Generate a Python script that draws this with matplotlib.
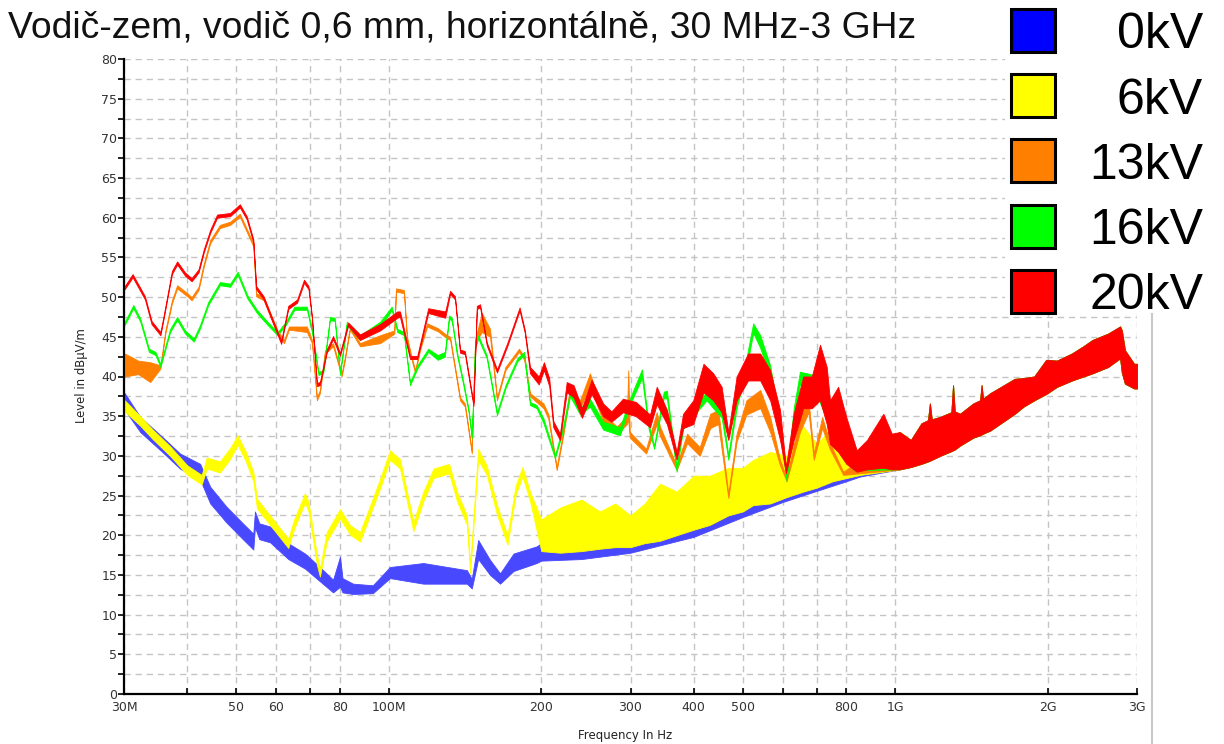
import numpy as np
import matplotlib
matplotlib.use("Agg")
import matplotlib.pyplot as plt
from matplotlib.patches import Rectangle
from matplotlib.ticker import MultipleLocator, NullLocator

# frekvence v MHz, úrovně v dBuV/m (horní a dolní okraj stopy)
red_f = [30.1, 31.2, 33.0, 34.0, 35.4, 35.9, 37.3, 38.2, 39.6, 40.8, 42.1, 43.1, 44.4, 45.8, 48.6, 50.8, 52.4, 54.0, 54.7, 56.6,
         59.3, 61.3, 63.3, 65.9, 68.0, 69.4, 70.5, 72.1, 73.1, 75.4, 77.6, 80.1, 83.1, 87.7, 96.1, 103.9, 105.2, 110.1, 113.8, 119.6,
         129.2, 132.1, 135.1, 138.2, 141.3, 144.7, 146.9, 149.2, 151.4, 156.1, 163.5, 171.5, 181.2, 185.5, 190.0, 197.7, 202.4, 207.3, 211.2, 217.7,
         224.5, 231.6, 240.6, 251.4, 264.9, 275.0, 289.8, 307.3, 327.8, 338.0, 354.0, 370.0, 381.0, 399.0, 418.0, 437.0, 454.0, 468.0, 486.0, 512.0,
         541.0, 566.0, 592.0, 608.0, 630.0, 658.0, 684.0, 710.0, 732.0, 743.0, 771.0, 800.0, 839.0, 879.0, 947.0, 984.0]
red_hi = [51.4, 52.9, 50.1, 47.0, 45.6, 47.6, 53.3, 54.5, 53.1, 52.4, 53.5, 56.0, 58.5, 60.4, 60.6, 61.7, 60.2, 57.3, 51.4, 50.1,
          46.8, 44.5, 48.9, 49.7, 52.2, 51.4, 47.6, 39.2, 39.3, 43.4, 45.1, 43.0, 46.8, 45.3, 46.6, 48.2, 48.2, 42.6, 42.6, 48.6,
          48.2, 50.8, 50.1, 43.4, 43.2, 39.2, 36.7, 48.9, 49.1, 44.3, 40.9, 44.3, 48.7, 45.9, 41.2, 40.0, 41.8, 39.8, 34.4, 32.8,
          39.3, 38.9, 36.0, 39.6, 36.6, 35.6, 37.2, 36.8, 35.2, 38.7, 35.8, 30.5, 35.3, 37.0, 41.6, 40.4, 38.7, 33.0, 40.0, 42.9,
          42.9, 40.8, 35.8, 28.6, 35.3, 40.0, 40.0, 44.0, 41.2, 37.0, 38.7, 34.9, 30.7, 32.0, 35.3, 32.8]
red_lo = [51.0, 52.5, 49.7, 46.6, 45.2, 47.2, 52.9, 54.1, 52.7, 52.0, 53.1, 55.6, 58.1, 60.0, 60.2, 61.3, 59.8, 56.9, 51.0, 49.7,
          46.4, 44.1, 48.5, 49.3, 51.8, 51.0, 47.2, 38.8, 38.9, 43.0, 44.7, 42.6, 46.4, 44.6, 45.8, 47.4, 47.5, 42.2, 42.2, 48.0,
          47.4, 50.4, 49.7, 43.0, 42.8, 38.8, 36.3, 48.5, 48.7, 43.9, 40.5, 43.9, 48.3, 45.5, 40.4, 39.0, 40.8, 38.8, 33.6, 32.0,
          38.0, 37.4, 34.8, 37.8, 35.0, 34.3, 35.5, 35.0, 33.6, 36.5, 34.0, 29.5, 33.5, 34.0, 38.0, 37.0, 35.5, 32.0, 37.0, 39.5,
          39.5, 37.0, 32.0, 27.8, 32.0, 36.0, 36.0, 37.0, 34.0, 31.5, 30.5, 29.0, 28.0, 28.3, 28.5, 28.3]

orange_f = [30.1, 32.0, 33.8, 35.4, 36.2, 37.3, 38.2, 40.0, 40.8, 42.1, 43.1, 44.4, 46.4, 48.6, 50.8, 52.6, 54.0, 54.7, 56.6, 60.3,
            62.1, 63.5, 68.9, 70.5, 72.1, 73.1, 74.8, 77.6, 80.7, 81.9, 83.8, 87.7, 96.1, 102.5, 103.3, 107.1, 108.6, 110.1, 112.7, 115.2,
            119.0, 124.9, 129.0, 132.1, 138.2, 141.3, 145.8, 148.0, 152.6, 158.4, 163.5, 169.9, 180.7, 185.0, 190.0, 202.0, 206.4, 214.5, 221.0, 227.9,
            238.5, 249.5, 265.0, 282.0, 295.0, 297.0, 299.0, 322.0, 338.0, 343.0, 370.0, 388.0, 411.0, 431.0, 447.0, 468.0, 486.0, 508.0, 541.0, 566.0,
            592.0, 610.0, 648.0, 674.0, 690.0, 717.0, 743.0, 789.0]
orange_hi = [42.9, 42.0, 41.8, 41.4, 45.8, 49.6, 51.5, 50.5, 50.0, 51.3, 54.2, 57.2, 59.1, 59.5, 60.5, 58.4, 56.8, 50.5, 50.0, 45.8,
             44.6, 46.3, 46.3, 44.6, 37.4, 38.3, 43.3, 44.2, 40.4, 42.5, 46.3, 44.2, 45.2, 45.8, 51.1, 50.9, 45.0, 43.3, 40.8, 43.7,
             46.7, 46.1, 45.4, 45.0, 37.4, 36.6, 30.7, 44.6, 48.0, 46.0, 37.4, 41.2, 43.5, 42.5, 37.9, 36.6, 35.3, 28.6, 33.2, 38.7,
             37.0, 40.4, 35.3, 33.7, 35.0, 40.8, 33.0, 30.9, 35.5, 33.7, 28.8, 32.8, 31.1, 35.3, 35.8, 25.2, 32.8, 37.0, 38.3, 34.9,
             29.5, 27.2, 34.9, 37.0, 30.3, 34.9, 31.6, 28.0]
orange_lo = [40.0, 40.3, 39.3, 41.0, 45.4, 49.2, 51.1, 50.1, 49.6, 50.9, 53.8, 56.8, 58.7, 59.1, 60.1, 58.0, 56.4, 50.1, 49.6, 45.4,
             44.2, 45.9, 45.6, 44.2, 37.0, 37.9, 42.9, 43.8, 40.0, 42.1, 45.9, 43.8, 44.2, 45.4, 50.7, 50.5, 44.6, 42.9, 40.4, 43.3,
             46.3, 45.7, 45.0, 44.6, 37.0, 36.2, 30.3, 44.2, 45.6, 45.0, 37.0, 40.8, 43.1, 42.1, 37.5, 36.0, 34.7, 28.2, 32.6, 37.8,
             36.0, 38.8, 34.3, 32.7, 34.0, 34.5, 32.3, 30.3, 34.0, 32.5, 28.2, 31.6, 30.0, 33.5, 34.0, 24.7, 31.8, 35.2, 36.0, 33.0,
             28.8, 26.8, 33.0, 35.5, 29.5, 33.5, 30.8, 27.6]

green_f = [30.1, 31.3, 32.3, 33.6, 34.6, 35.4, 37.0, 38.2, 39.6, 41.2, 42.4, 44.0, 46.4, 48.6, 50.3, 52.6, 54.9, 57.6, 60.3, 62.6,
           65.1, 68.9, 70.5, 72.6, 74.2, 76.5, 78.2, 80.1, 82.6, 87.7, 96.1, 101.3, 103.9, 107.1, 110.1, 113.8, 119.6, 124.9, 129.0, 131.5,
           133.1, 136.3, 140.3, 143.6, 145.8, 148.0, 150.1, 156.0, 163.5, 169.9, 179.3, 185.0, 190.0, 195.8, 202.0, 212.8, 221.0, 227.9, 238.5, 249.5,
           265.0, 286.0, 299.0, 316.0, 326.0, 334.0, 349.0, 354.0, 370.0, 381.0, 399.0, 424.0, 437.0, 454.0, 468.0, 486.0, 508.0, 524.0, 541.0, 566.0,
           592.0, 610.0, 630.0, 648.0, 690.0, 732.0, 778.0, 826.0]
green_hi = [46.9, 49.0, 47.3, 43.5, 43.1, 41.6, 46.0, 47.5, 45.8, 44.8, 46.5, 49.4, 51.9, 51.7, 53.2, 50.2, 48.4, 46.9, 45.6, 46.9,
            48.8, 48.8, 46.0, 40.6, 40.8, 47.5, 47.4, 40.6, 46.9, 45.2, 46.9, 48.8, 46.0, 45.6, 39.3, 41.4, 43.5, 42.7, 43.1, 47.7,
            47.4, 43.1, 39.3, 36.0, 32.6, 43.9, 45.2, 42.7, 35.5, 38.9, 42.3, 43.1, 36.8, 36.4, 34.7, 30.1, 33.9, 38.1, 36.0, 37.2,
            34.3, 33.6, 37.2, 40.9, 33.9, 31.3, 38.1, 38.2, 28.6, 34.2, 36.0, 38.1, 37.2, 36.0, 30.1, 37.2, 42.3, 46.7, 45.2, 41.4,
            34.3, 27.4, 36.0, 40.6, 40.2, 36.4, 33.0, 28.8]
green_lo = [46.5, 48.6, 46.9, 43.1, 42.7, 41.2, 45.6, 47.1, 45.4, 44.4, 46.1, 49.0, 51.5, 51.3, 52.8, 49.8, 48.0, 46.5, 45.2, 46.5,
            48.4, 48.4, 45.6, 40.2, 40.4, 47.1, 47.0, 40.2, 46.5, 44.6, 46.1, 48.4, 45.6, 45.2, 38.9, 41.0, 43.1, 42.1, 42.5, 47.3,
            47.0, 42.7, 38.9, 35.6, 32.2, 43.5, 44.8, 42.3, 35.1, 38.5, 41.9, 42.7, 36.4, 36.0, 34.1, 29.7, 33.3, 37.5, 35.2, 36.2,
            33.3, 32.6, 36.4, 39.8, 33.3, 30.9, 37.3, 37.2, 28.0, 33.4, 35.0, 37.0, 36.0, 34.8, 29.5, 36.0, 41.0, 45.5, 43.6, 39.8,
            33.2, 26.8, 34.6, 39.0, 38.6, 34.6, 31.5, 28.2]

yellow_f = [30.1, 32.3, 34.2, 37.0, 40.0, 42.7, 43.7, 46.4, 48.6, 50.3, 52.2, 54.0, 54.9, 57.6, 60.3, 63.3, 65.1, 68.3, 69.4, 72.1,
            73.1, 75.4, 80.1, 83.8, 87.7, 90.3, 96.1, 100.5, 105.2, 111.8, 117.0, 122.5, 131.5, 136.3, 142.6, 144.7, 150.1, 156.0, 163.5, 171.5,
            178.0, 183.6, 190.0, 200.0, 218.0, 240.0, 261.0, 280.0, 300.0, 320.0, 343.0, 370.0, 400.0, 430.0, 468.0, 500.0, 524.0, 566.0, 610.0, 658.0,
            700.0, 752.0, 800.0, 852.0]
yellow_hi = [37.0, 35.0, 33.3, 31.2, 28.8, 27.6, 29.8, 29.3, 31.0, 32.6, 30.5, 28.0, 24.6, 22.9, 21.3, 19.6, 22.1, 25.3, 24.2, 17.5,
             15.8, 20.4, 23.3, 21.3, 20.4, 22.5, 27.1, 30.7, 29.6, 21.7, 25.5, 28.4, 29.0, 25.5, 22.5, 16.2, 30.9, 28.8, 23.8, 20.0,
             26.3, 28.6, 25.5, 22.0, 23.5, 24.5, 23.0, 24.0, 22.5, 24.0, 26.5, 25.5, 27.5, 27.5, 28.5, 28.5, 29.5, 30.5, 30.0, 33.7,
             31.5, 33.7, 32.5, 30.0]
yellow_lo = [35.6, 33.8, 32.1, 30.0, 27.6, 26.4, 28.4, 27.9, 29.6, 31.4, 29.3, 26.8, 23.4, 21.7, 20.1, 18.4, 20.9, 24.1, 23.0, 16.3,
             14.8, 19.2, 22.1, 20.1, 19.2, 21.3, 25.9, 29.5, 28.4, 20.5, 24.3, 27.2, 27.8, 24.3, 21.3, 15.2, 29.5, 27.6, 22.6, 18.8,
             25.1, 27.4, 24.3, 18.0, 17.8, 18.0, 18.3, 18.5, 18.5, 19.0, 19.3, 20.0, 20.7, 21.3, 22.5, 23.0, 23.8, 24.0, 24.8, 25.5,
             26.0, 26.8, 27.2, 27.6]

blue_f = [30.1, 32.3, 35.7, 38.7, 42.4, 44.4, 47.8, 51.5, 54.0, 54.4, 55.5, 58.3, 63.3, 68.3, 73.1, 77.6, 80.1, 81.0, 85.0, 93.0,
          100.5, 117.0, 142.6, 145.8, 150.1, 158.4, 165.8, 176.3, 195.8, 200.0, 240.0, 300.0, 400.0, 500.0, 600.0, 700.0, 800.0, 852.0]
blue_hi = [37.9, 34.9, 32.4, 30.3, 29.0, 26.1, 23.6, 21.5, 20.2, 23.0, 21.5, 21.1, 19.0, 17.7, 16.0, 14.4, 17.3, 14.6, 13.9, 13.7,
           16.0, 16.5, 15.6, 14.5, 19.4, 16.9, 15.2, 17.7, 18.6, 19.0, 20.0, 20.0, 22.0, 24.5, 26.5, 28.0, 29.0, 29.5]
blue_lo = [35.8, 33.0, 30.5, 28.4, 27.0, 24.0, 21.6, 19.5, 18.2, 21.0, 19.5, 19.1, 17.0, 15.8, 14.2, 12.8, 13.5, 12.8, 12.6, 12.7,
           14.6, 13.9, 13.9, 13.3, 17.0, 15.0, 13.9, 15.5, 16.5, 16.8, 17.0, 17.8, 19.8, 22.3, 24.2, 25.6, 26.8, 27.4]

# nad 1 GHz splývají všechny stopy do jednoho pásu
band_f = [1020, 1073, 1126, 1160, 1170, 1180, 1225, 1290, 1300, 1310, 1342, 1425, 1470, 1480, 1490,
          1540, 1720, 1790, 1880, 1985, 2085, 2232, 2350, 2450, 2630, 2778, 2800, 2840, 2960, 3000]
band_hi = [33.0, 32.0, 34.1, 34.5, 36.6, 34.6, 34.9, 35.5, 38.9, 35.6, 35.3, 36.6, 37.0, 38.9, 37.2,
           37.9, 39.7, 39.8, 40.0, 42.1, 42.0, 42.9, 43.8, 44.6, 45.4, 46.3, 45.8, 43.3, 41.6, 41.6]
band_lo = [28.3, 28.6, 29.0, 29.3, 29.4, 29.5, 30.0, 30.6, 30.7, 30.8, 31.3, 32.3, 32.6, 32.7, 32.8,
           33.2, 35.3, 36.2, 37.0, 37.8, 38.7, 39.5, 40.0, 40.4, 41.2, 42.3, 40.5, 39.1, 38.5, 38.5]

labels = ["0kV", "6kV", "13kV", "16kV", "20kV"]
x_ticks = [30, 40, 50, 60, 70, 80, 100, 200, 300, 400, 500, 600, 700, 800, 1000, 2000, 3000]
x_labels = ["30M", "", "50", "60", "", "80", "100M", "200", "300", "400", "500", "", "", "800", "1G", "2G", "3G"]

W, H = 1224, 744
fig = plt.figure(figsize=(W / 100, H / 100), dpi=100)
ax = fig.add_axes([124 / W, 1 - 694 / H, (1137 - 124) / W, (694 - 59) / H])

ax.set_xscale("log")
ax.set_xlim(30, 3000)
ax.set_ylim(0, 80)

series = [
    (blue_f, blue_lo, blue_hi, "#4848ff"),
    (yellow_f, yellow_lo, yellow_hi, "#ffff00"),
    (orange_f, orange_lo, orange_hi, "#ff8000"),
    (green_f, green_lo, green_hi, "#00ff00"),
    (red_f, red_lo, red_hi, "#ff0000"),
]
for f, lo, hi, c in series:
    ff = np.concatenate([f, band_f])
    ll = np.concatenate([lo, band_lo])
    hh = np.concatenate([hi, band_hi])
    ax.fill_between(ff, ll, hh, facecolor=c, edgecolor=c, linewidth=0.6, zorder=2)

# osy a mřížka
ax.set_xticks(x_ticks)
ax.set_xticklabels(x_labels)
ax.xaxis.set_minor_locator(NullLocator())
ax.yaxis.set_major_locator(MultipleLocator(5))
ax.yaxis.set_minor_locator(MultipleLocator(2.5))
ax.set_axisbelow(True)
ax.grid(True, which="both", color="#c4c4c4", linestyle=(0, (4.5, 3.5)), linewidth=1.0)
ax.xaxis.grid(True, which="major")

for s in ["top", "right"]:
    ax.spines[s].set_visible(False)
ax.spines["left"].set_linewidth(1.6)
ax.spines["bottom"].set_linewidth(1.6)

ax.tick_params(axis="x", direction="in", length=4, width=1.2, pad=5,
               labelsize=9, labelcolor="#333333")
ax.tick_params(axis="y", which="both", direction="out", length=4, width=1.2, pad=1,
               labelsize=9, labelcolor="#333333")
for t in ax.get_xticklabels() + ax.get_yticklabels():
    t.set_family("DejaVu Sans")

fig.text(82 / W, 1 - 376 / H, "Level in dBµV/m", rotation=90, ha="center", va="center",
         fontsize=8.4, color="#222222", family="DejaVu Sans")
fig.text(625 / W, 1 - 735 / H, "Frequency In Hz", ha="center", va="center",
         fontsize=8.5, color="#222222", family="DejaVu Sans")

fig.text(8 / W, 1 - 38 / H, "Vodič-zem, vodič 0,6 mm, horizontálně, 30 MHz-3 GHz",
         ha="left", va="baseline", fontsize=26.8, family="Liberation Sans", color="#111111")

# legenda vpravo nahoře na bílém poli
fig.add_artist(Rectangle((1005 / W, 1 - 314 / H), (W - 1005) / W, 314 / H,
                         transform=fig.transFigure, facecolor="white", edgecolor="none", zorder=5))
fig.add_artist(plt.Line2D([1152 / W, 1152 / W], [0, 1 - 314 / H], transform=fig.transFigure,
                          color="#c8c8c8", linewidth=1.5, zorder=5))
legend_colors = ["#0000ff", "#ffff00", "#ff8000", "#00ff00", "#ff0000"]
for i, (lab, c) in enumerate(zip(labels, legend_colors)):
    top = 9 + i * 65.2
    fig.add_artist(Rectangle((1011 / W, 1 - (top + 43) / H), 44 / W, 43 / H,
                             transform=fig.transFigure, facecolor=c, edgecolor="black",
                             linewidth=2.2, zorder=6))
    fig.text(1203 / W, 1 - (top + 39.5) / H, lab, ha="right", va="baseline",
             fontsize=36, family="Liberation Sans", color="black", zorder=6)

fig.savefig("out.png", dpi=100)
